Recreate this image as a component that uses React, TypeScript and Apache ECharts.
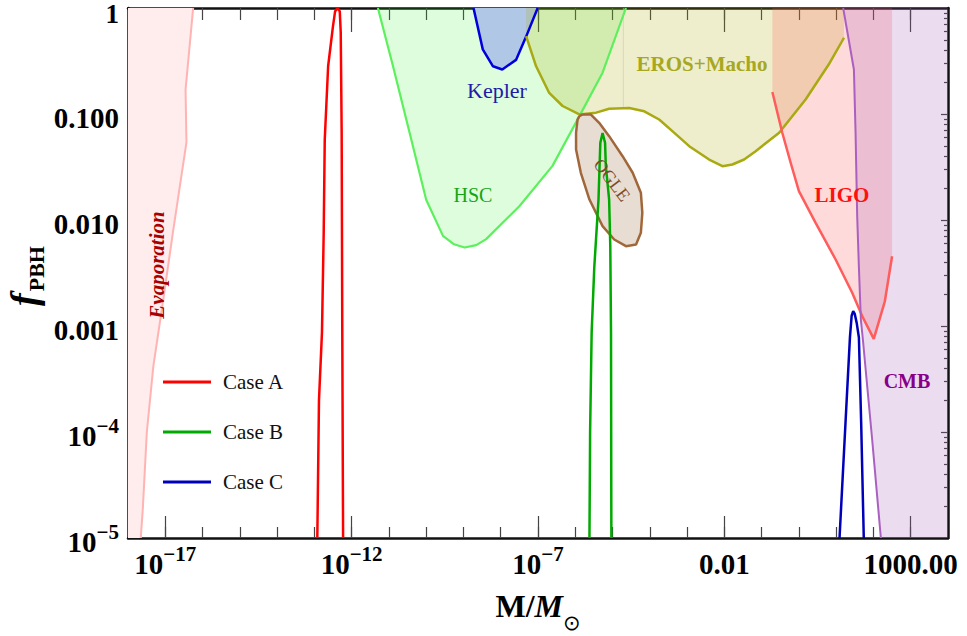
import { useEffect, useRef } from 'react';
import * as echarts from 'echarts';

// ---------- axis ranges & ticks ----------
const X_MIN = 1e-18;
const X_MAX = 1e4;
const Y_MIN = 1e-5;
const Y_MAX = 1;

const xDecadeTicks = [1e-17, 1e-16, 1e-15, 1e-14, 1e-13, 1e-12, 1e-11, 1e-10, 1e-9, 1e-8, 1e-7, 1e-6, 1e-5, 1e-4, 1e-3, 1e-2, 1e-1, 1, 10, 100, 1000];
const xLabelTicks = [1e-17, 1e-12, 1e-7, 0.01, 1000];
const xTickLabels = ['10^−17', '10^−12', '10^−7', '0.01', '1000.00'];

const yDecadeTicks = [1e-4, 1e-3, 1e-2, 1e-1];
const yLabelTicks = [1e-5, 1e-4, 1e-3, 0.01, 0.1, 1];
const yTickLabels = ['10^−5', '10^−4', '0.001', '0.010', '0.100', '1'];
const yMinorDecades = [1e-5, 1e-4, 1e-3, 1e-2, 1e-1];
const minorMultipliers = [2, 3, 4, 5, 6, 7, 8, 9];
const yMinorTicks = yMinorDecades.flatMap((d) => minorMultipliers.map((m) => m * d));

// ---------- constraint boundaries [M/Msun, f_PBH] ----------
const evaporationBoundary = [
  [5.6e-17, 1], [3.5e-17, 0.17], [3.7e-17, 0.054], [1.6e-17, 7.6e-3], [8.9e-18, 1.8e-3],
  [4.8e-18, 4.2e-4], [3.2e-18, 1e-4], [2.5e-18, 1.9e-5], [2.2e-18, 1e-5],
];
const hscBoundary = [
  [5.07e-12, 1], [1.29e-11, 0.282], [3.55e-11, 0.0676], [1e-10, 0.0155], [2.82e-10, 7.08e-3],
  [5.6e-10, 5.9e-3], [1.07e-9, 5.5e-3], [2.2e-9, 5.8e-3], [4.07e-9, 6.6e-3], [3.16e-8, 0.0135],
  [2.45e-7, 0.0324], [1.29e-6, 0.0955], [5.4e-6, 0.245], [2.29e-5, 1],
];
const keplerBoundary = [
  [1.86e-9, 1], [3.3e-9, 0.407], [6.2e-9, 0.282], [1.1e-8, 0.263], [2.57e-8, 0.324], [4.8e-8, 0.537], [9.8e-8, 1],
];
const erosBoundary = [
  [4.8e-8, 0.542], [8.9e-8, 0.282], [2.0e-7, 0.158], [4.57e-7, 0.119], [1.29e-6, 0.099], [3.63e-6, 0.103],
  [8.1e-6, 0.112], [2.8e-5, 0.114], [7.1e-5, 0.106], [1.78e-4, 0.0887], [4.47e-4, 0.0668], [1.14e-3, 0.0497],
  [3.9e-3, 0.0372], [8.9e-3, 0.0322], [0.0164, 0.0334], [0.0339, 0.0372], [0.069, 0.0446], [0.295, 0.0665],
  [1.51, 0.137], [6.3, 0.293], [16.2, 0.524],
];
const ogleBoundary = [
  [1.29e-6, 0.0953], [1.58e-6, 0.0989], [2.63e-6, 0.0989], [4.37e-6, 0.0826], [8.1e-6, 0.0618], [1.86e-5, 0.04],
  [3.47e-5, 0.0279], [5.75e-5, 0.0181], [6.3e-5, 0.0117], [5.75e-5, 7.57e-3], [4.27e-5, 5.87e-3], [2.29e-5, 5.66e-3],
  [1.11e-5, 6.55e-3], [5.4e-6, 8.75e-3], [2.4e-6, 0.0156], [1.41e-6, 0.0279], [1.05e-6, 0.0462], [1.05e-6, 0.0665],
  [1.15e-6, 0.0887], [1.29e-6, 0.0953],
];
const ligoBoundary = [
  [0.194, 0.161], [0.358, 0.0665], [0.601, 0.0347], [1.0, 0.0187], [2.81, 9.4e-3], [9.66, 4.24e-3],
  [26.9, 2.06e-3], [49.8, 1.24e-3], [102, 7.57e-4], [202, 1.71e-3], [316, 4.55e-3],
];
const cmbBoundary = [
  [15.4, 1], [29.9, 0.263], [33.1, 0.0668], [36.6, 0.0109], [40.6, 3.66e-3], [45.9, 1.15e-3],
  [52, 7.46e-4], [92.3, 8.5e-5], [158, 1e-5],
];
const erosSeam = [[1.95e-5, 1], [1.95e-5, 0.114]];

// ---------- PBH mass functions ----------
const caseA = [
  [1.2e-13, 1e-5], [1.33e-13, 2.0e-4], [1.6e-13, 8.7e-4], [1.78e-13, 7.6e-3], [1.9e-13, 0.0575],
  [2.34e-13, 0.282], [3.16e-13, 0.674], [3.6e-13, 0.93], [4.2e-13, 1], [4.8e-13, 0.93], [5.1e-13, 0.59],
  [5.4e-13, 0.066], [5.6e-13, 1e-3], [5.9e-13, 1e-5],
];
const caseB = [
  [2.4e-6, 1e-5], [2.5e-6, 1e-4], [2.75e-6, 8.7e-4], [3.24e-6, 3.6e-3], [4.2e-6, 0.0156], [4.7e-6, 0.0535],
  [5.4e-6, 0.066], [6.3e-6, 0.0535], [6.6e-6, 0.0324], [8.1e-6, 0.0156], [8.7e-6, 5.6e-3], [9.1e-6, 8.7e-4],
  [9.3e-6, 1e-5],
];
const caseC = [
  [12.3, 1e-5], [17.8, 1.23e-4], [23.4, 7.8e-4], [26, 1.25e-3], [28.6, 1.38e-3], [31.5, 1.3e-3],
  [35.5, 1.07e-3], [40.7, 7.8e-4], [46.8, 1.23e-4], [55, 1e-5],
];

// ---------- polygons built from the boundaries ----------
const evaporationFill = [[X_MIN, Y_MAX], ...evaporationBoundary, [X_MIN, Y_MIN]];
const erosFill = [[erosBoundary[0][0], Y_MAX], ...erosBoundary, [erosBoundary[erosBoundary.length - 1][0], Y_MAX]];
const ligoFill = [[ligoBoundary[0][0], Y_MAX], ...ligoBoundary, [ligoBoundary[ligoBoundary.length - 1][0], Y_MAX]];
const cmbFill = [...cmbBoundary, [X_MAX, Y_MIN], [X_MAX, Y_MAX]];

const SERIF = "'Liberation Serif', 'DejaVu Serif', serif";

function labelFor(value: number, ticks: number[], labels: string[], edgeValue?: number) {
  const lv = Math.log10(value);
  const i = ticks.findIndex((t) => Math.abs(Math.log10(t) - lv) < 1e-6);
  if (i < 0) return '';
  const s = labels[i];
  if (s.includes('^')) {
    const [a, b] = s.split('^');
    return `{b|${a}}{s|${b}}`;
  }
  if (edgeValue !== undefined && Math.abs(Math.log10(edgeValue) - lv) < 1e-6) return `{t|${s}}`;
  return `{b|${s}}`;
}

const makeRich = () => ({
  b: { fontFamily: SERIF, fontWeight: 'bold', fontSize: 29, color: '#000', lineHeight: 36, verticalAlign: 'bottom' },
  s: { fontFamily: SERIF, fontWeight: 'bold', fontSize: 21, color: '#000', lineHeight: 22, verticalAlign: 'bottom', padding: [0, 0, 14, 0] },
  // label sitting on the top edge of the frame: compact box, nudged down
  t: { fontFamily: SERIF, fontWeight: 'bold', fontSize: 27, color: '#000', lineHeight: 4, padding: [12, 0, 0, 0] },
});

const tickLine = { color: '#444', width: 1.2 };
const frameLine = { show: true, onZero: false, lineStyle: { color: '#111', width: 2.5 } };

function xAxisDef(position: string, showLine: boolean, ticks: number[], len: number, labels: boolean) {
  return {
    type: 'log', logBase: 10, min: X_MIN, max: X_MAX, gridIndex: 0, position,
    axisLine: showLine ? frameLine : { show: false, onZero: false },
    axisTick: { show: true, inside: true, length: len, lineStyle: tickLine, customValues: ticks },
    axisLabel: labels
      ? { show: true, customValues: xLabelTicks, margin: 4, formatter: (v: number) => labelFor(v, xLabelTicks, xTickLabels), rich: makeRich() }
      : { show: false },
    splitLine: { show: false },
    minorTick: { show: false },
  };
}
function yAxisDef(position: string, showLine: boolean, ticks: number[], len: number, labels: boolean) {
  return {
    type: 'log', logBase: 10, min: Y_MIN, max: Y_MAX, gridIndex: 0, position,
    axisLine: showLine ? frameLine : { show: false, onZero: false },
    axisTick: { show: true, inside: true, length: len, lineStyle: tickLine, customValues: ticks },
    axisLabel: labels
      ? { show: true, customValues: yLabelTicks, margin: 9, formatter: (v: number) => labelFor(v, yLabelTicks, yTickLabels, Y_MAX), rich: makeRich() }
      : { show: false },
    splitLine: { show: false },
    minorTick: { show: false },
  };
}

function fillSeries(name: string, pts: number[][], fill: string) {
  return {
    type: 'custom', name, coordinateSystem: 'cartesian2d', xAxisIndex: 0, yAxisIndex: 0,
    silent: true, clip: true, z: 1,
    data: [pts[0]],
    renderItem: (_params: any, api: any) => ({
      type: 'polygon',
      shape: { points: pts.map((p) => api.coord(p)) },
      style: { fill, stroke: 'none' },
    }),
  };
}
function lineSeries(name: string, pts: number[][], color: string, width: number, z = 3) {
  return {
    type: 'line', name, data: pts, xAxisIndex: 0, yAxisIndex: 0,
    symbol: 'none', showSymbol: false, smooth: false, clip: true, silent: true, z,
    lineStyle: { color, width },
    itemStyle: { color },
  };
}

const textLabel = (x: number, y: number, text: string, fill: string, fontSize: number, bold: boolean, extra: any = {}) => ({
  type: 'text', x, y, z: 100, silent: true, rotation: extra.rotation || 0,
  style: {
    text, fill, fontSize, fontFamily: SERIF, fontWeight: bold ? 'bold' : 'normal',
    fontStyle: extra.italic ? 'italic' : 'normal', align: 'center', verticalAlign: 'middle',
  },
});

const option = {
  animation: false,
  backgroundColor: '#ffffff',
  grid: { left: 128, right: 19, top: 8, bottom: 98, containLabel: false, outerBoundsMode: 'none' },
  xAxis: [
    xAxisDef('bottom', true, xDecadeTicks, 11, true),
    xAxisDef('bottom', false, xLabelTicks, 22, false),
    xAxisDef('top', true, xDecadeTicks, 12, false),
    xAxisDef('top', false, xLabelTicks, 24, false),
  ],
  yAxis: [
    yAxisDef('left', true, yDecadeTicks, 9, true),
    yAxisDef('left', false, yMinorTicks, 4.5, false),
    yAxisDef('right', true, yDecadeTicks, 7, false),
    yAxisDef('right', false, yMinorTicks, 4, false),
  ],
  legend: {
    data: ['Case A', 'Case B', 'Case C'],
    orient: 'vertical', left: 163, top: 370, padding: 0,
    icon: 'rect', itemWidth: 48, itemHeight: 3, itemGap: 26,
    selectedMode: false,
    textStyle: { fontFamily: SERIF, fontSize: 21, color: '#111', lineHeight: 24, padding: [0, 0, 0, 7] },
  },
  series: [
    fillSeries('Evaporation', evaporationFill, '#ffecec'),
    fillSeries('HSC', hscBoundary, 'rgba(30,240,30,0.15)'),
    fillSeries('Kepler', keplerBoundary, '#b0c8e6'),
    fillSeries('EROS+Macho', erosFill, 'rgba(170,170,0,0.2)'),
    fillSeries('OGLE', ogleBoundary, '#e8ddd3'),
    fillSeries('LIGO', ligoFill, 'rgba(255,80,80,0.21)'),
    fillSeries('CMB', cmbFill, 'rgba(160,80,180,0.2)'),
    lineSeries('seam', erosSeam, 'rgba(200,200,185,0.6)', 1, 2),
    lineSeries('Evaporation line', evaporationBoundary, '#ffb3b3', 2),
    lineSeries('HSC line', hscBoundary, '#5cf05c', 2.2),
    lineSeries('Kepler line', keplerBoundary, '#0000dd', 2.5),
    lineSeries('EROS line', erosBoundary, '#a9a912', 2.5),
    lineSeries('OGLE line', ogleBoundary, '#a0683a', 2.5),
    lineSeries('LIGO line', ligoBoundary, '#ff5c5c', 2.5),
    lineSeries('CMB line', cmbBoundary, '#aa60c0', 2),
    lineSeries('Case A', caseA, '#ff0000', 2.5, 5),
    lineSeries('Case B', caseB, '#00aa00', 2.5, 5),
    lineSeries('Case C', caseC, '#0000bb', 2.5, 5),
  ],
  graphic: [
    textLabel(157, 265, 'Evaporation', '#a80000', 21, true, { rotation: Math.PI / 2, italic: true }),
    textLabel(497, 90, 'Kepler', '#1c1ca8', 22, false),
    textLabel(473, 195, 'HSC', '#14a514', 20, false),
    textLabel(702, 64, 'EROS+Macho', '#a8a820', 21, true),
    textLabel(612, 180, 'OGLE', '#7b4a2a', 18, false, { rotation: -0.92 }),
    textLabel(842, 195, 'LIGO', '#ff1010', 21, true),
    textLabel(907, 381, 'CMB', '#880088', 20, true),
    {
      type: 'text', x: 538, y: 597, z: 100, silent: true,
      style: {
        text: '{a|M/}{i|M}{o|⊙}', align: 'center', verticalAlign: 'top',
        rich: {
          a: { fontFamily: SERIF, fontWeight: 'bold', fontSize: 32, fill: '#000', lineHeight: 36, verticalAlign: 'bottom', padding: [0, 0, 11, 0] },
          i: { fontFamily: SERIF, fontWeight: 'bold', fontStyle: 'italic', fontSize: 32, fill: '#000', lineHeight: 36, verticalAlign: 'bottom', padding: [0, 0, 11, 0] },
          o: { fontFamily: "'DejaVu Sans', sans-serif", fontSize: 21, fill: '#000', lineHeight: 20, verticalAlign: 'bottom' },
        },
      },
    },
    {
      type: 'text', x: 26, y: 276, z: 100, silent: true, rotation: Math.PI / 2,
      style: {
        text: '{f|f}{p|PBH}', align: 'center', verticalAlign: 'middle',
        rich: {
          f: { fontFamily: SERIF, fontWeight: 'bold', fontStyle: 'italic', fontSize: 38, fill: '#000', lineHeight: 42, verticalAlign: 'bottom', padding: [0, 2, 4, 0] },
          p: { fontFamily: SERIF, fontWeight: 'bold', fontSize: 22, fill: '#000', lineHeight: 24, verticalAlign: 'bottom' },
        },
      },
    },
  ],
};

export default function App() {
  const ref = useRef<HTMLDivElement>(null);
  useEffect(() => {
    if (!ref.current) return;
    const chart = echarts.init(ref.current, null, { renderer: 'svg' });
    chart.setOption(option as any);
    return () => chart.dispose();
  }, []);
  return (
    <div
      ref={ref}
      style={{ position: 'fixed', left: 0, top: 0, width: 967, height: 636, background: '#fff' }}
    />
  );
}
